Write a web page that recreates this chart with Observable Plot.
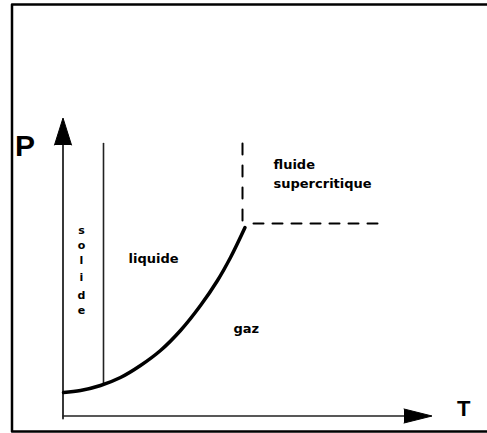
<!DOCTYPE html>
<html>
<head>
<meta charset="utf-8">
<script src="https://cdn.jsdelivr.net/npm/d3@7"></script>
<script src="https://cdn.jsdelivr.net/npm/@observablehq/plot@0.6"></script>
<style>
  html, body { margin: 0; padding: 0; background: #fff; overflow: hidden; }
  #chart svg { display: block; }
</style>
</head>
<body>
<div id="chart"></div>
<script>
// Schematic phase diagram (T horizontal, P vertical), coordinates in diagram units
const frameCorners = [
  {T: 427.5, P: 411.5}, {T: -51, P: 411.5}, {T: -51, P: -15.5}, {T: 427.5, P: -15.5}
];
const axisT = [{T: 0, P: 0}, {T: 341, P: 0}];
const axisP = [{T: 0, P: -2.5}, {T: 0, P: 271}];
const arrowHeads = [
  {id: "T", T: 341, P: 7}, {id: "T", T: 369, P: 0}, {id: "T", T: 341, P: -7},
  {id: "P", T: -8.5, P: 271}, {id: "P", T: 0, P: 298}, {id: "P", T: 8.5, P: 271}
];
// solid / liquid boundary
const fusionLine = [{T: 40.5, P: 272.5}, {T: 40.5, P: 32.5}];
// liquid / gas boundary (vaporisation curve)
const curveT = [0.5, 17.5, 37.5, 57.5, 77.5, 97.5, 117.5, 137.5, 154.5, 167.5, 182];
const curveP = [23.5, 25.5, 30.5, 38.5, 50.5, 65.5, 85.5, 110.5, 135.5, 158.5, 188.5];
const curve = curveT.map((T, i) => ({T, P: curveP[i]}));
// supercritical boundaries (dashed)
const critVertical = [{T: 179.5, P: 272.5}, {T: 179.5, P: 193.5}];
const critHorizontal = [{T: 190.5, P: 192.5}, {T: 317.5, P: 192.5}];

const regionLabels = [
  {text: "fluide", T: 210.5, P: 247.5},
  {text: "supercritique", T: 210.5, P: 228.5},
  {text: "liquide", T: 65.5, P: 153.5},
  {text: "gaz", T: 170.5, P: 83.5}
];
const solideLetters = ["s", "o", "l", "i", "d", "e"];
const solideP = [182.5, 167.5, 152.5, 135.5, 117.5, 102.5];
const solide = solideLetters.map((text, i) => ({text, T: 18.5, P: solideP[i]}));
const axisLabels = [
  {text: "P", T: -48, P: 260.5, size: 30},
  {text: "T", T: 394, P: 0.5, size: 22}
];

const font = "DejaVu Sans";
const chart = Plot.plot({
  width: 487,
  height: 433,
  margin: 0,
  x: {domain: [-62.5, 424.5], range: [0, 487], axis: null},
  y: {domain: [-17.5, 415.5], range: [433, 0], axis: null},
  style: {background: "white"},
  marks: [
    Plot.line(frameCorners, {x: "T", y: "P", stroke: "black", strokeWidth: 2.5}),
    Plot.line(axisT, {x: "T", y: "P", stroke: "#222", strokeWidth: 1.6}),
    Plot.line(axisP, {x: "T", y: "P", stroke: "#222", strokeWidth: 1.8}),
    Plot.line(arrowHeads, {x: "T", y: "P", z: "id", fill: "black", stroke: "black", strokeWidth: 1}),
    Plot.line(fusionLine, {x: "T", y: "P", stroke: "#222", strokeWidth: 1.6}),
    Plot.line(curve, {x: "T", y: "P", stroke: "black", strokeWidth: 3.5, curve: "catmull-rom"}),
    Plot.line(critVertical, {x: "T", y: "P", stroke: "black", strokeWidth: 2, strokeDasharray: "11,11"}),
    Plot.line(critHorizontal, {x: "T", y: "P", stroke: "black", strokeWidth: 2, strokeDasharray: "10,9"}),
    Plot.text(regionLabels, {x: "T", y: "P", text: "text", textAnchor: "start", lineAnchor: "bottom",
      fontFamily: font, fontWeight: "bold", fontSize: 13, fill: "black"}),
    Plot.text(solide, {x: "T", y: "P", text: "text", textAnchor: "middle", lineAnchor: "bottom",
      fontFamily: font, fontWeight: "bold", fontSize: 11, fill: "black"}),
    Plot.text(axisLabels, {x: "T", y: "P", text: "text", textAnchor: "start", lineAnchor: "bottom",
      fontFamily: "Liberation Sans", fontWeight: "bold", fontSize: d => d.size, fill: "black"})
  ]
});
document.getElementById("chart").appendChild(chart);
</script>
</body>
</html>
